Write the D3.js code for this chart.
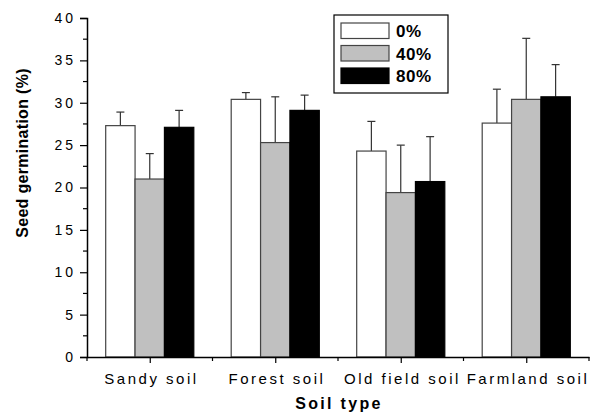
<!DOCTYPE html>
<html>
<head>
<meta charset="utf-8">
<script src="https://cdn.jsdelivr.net/npm/d3@7"></script>
<style>
  body { margin: 0; background: #fff; }
  text { font-family: "Liberation Sans", Arial, sans-serif; }
</style>
</head>
<body>
<div id="chart"></div>
<script>
// soil types on the x axis
var soils = ["Sandy soil", "Forest soil", "Old field soil", "Farmland soil"];
var series = ["0%", "40%", "80%"];
var colours = ["#ffffff", "#c0c0c0", "#000000"];

// means and (upper) error bars, one array per series
var mean0 = [27.3, 30.4, 24.3, 27.6];
var mean40 = [21.0, 25.3, 19.4, 30.4];
var mean80 = [27.1, 29.1, 20.7, 30.7];
var err0 = [1.6, 0.8, 3.5, 4.0];
var err40 = [3.0, 5.4, 5.6, 7.2];
var err80 = [2.0, 1.8, 5.3, 3.8];

var yTicks = [0, 5, 10, 15, 20, 25, 30, 35, 40];

var w = 613, h = 415;
var margin = { top: 18, right: 24, bottom: 58, left: 87 };
var iw = w - margin.left - margin.right;
var ih = h - margin.top - margin.bottom;

var svg = d3.select("#chart").append("svg")
    .attr("width", w)
    .attr("height", h);

var g = svg.append("g")
    .attr("transform", "translate(" + margin.left + "," + margin.top + ")");

var x = d3.scaleLinear().domain([0.5, 4.5]).range([0, iw]);
var y = d3.scaleLinear().domain([0, 40]).range([ih, 0]);

var barW = 0.234; // in category units

var means = [mean0, mean40, mean80];
var errs = [err0, err40, err80];
var bars = [];
soils.forEach(function (s, i) {
    series.forEach(function (k, j) {
        bars.push({ i: i, j: j, v: means[j][i], e: errs[j][i] });
    });
});

function barX(d) { return x(d.i + 1 + (d.j - 1.5) * barW); }
var bw = x(1 + barW) - x(1);

// error bars first so bars sit on top of their lower part
var eb = g.selectAll(".err").data(bars).enter().append("g");
eb.append("line")
    .attr("x1", d => barX(d) + bw / 2).attr("x2", d => barX(d) + bw / 2)
    .attr("y1", d => y(d.v)).attr("y2", d => y(d.v + d.e))
    .attr("stroke", "#333").attr("stroke-width", 1.2);
eb.append("line")
    .attr("x1", d => barX(d) + bw / 2 - 4).attr("x2", d => barX(d) + bw / 2 + 4)
    .attr("y1", d => y(d.v + d.e)).attr("y2", d => y(d.v + d.e))
    .attr("stroke", "#333").attr("stroke-width", 1.2);

g.selectAll("rect.bar").data(bars).enter().append("rect")
    .attr("class", "bar")
    .attr("x", barX)
    .attr("y", d => y(d.v))
    .attr("width", bw)
    .attr("height", d => y(0) - y(d.v))
    .attr("fill", d => colours[d.j])
    .attr("stroke", d => d.j == 2 ? "#000" : "#444")
    .attr("stroke-width", 1.2);

// y axis
var yAxis = d3.axisLeft(y).tickValues(yTicks).tickSize(7).tickPadding(4);
var ya = g.append("g").call(yAxis);
ya.select(".domain").attr("stroke-width", 1.5);
ya.selectAll(".tick line").attr("stroke-width", 1.2);
ya.selectAll("text").attr("font-size", 14).attr("letter-spacing", 3).attr("fill", "#000");
// minor ticks
g.selectAll(".ymin").data(d3.range(2.5, 40, 5)).enter().append("line")
    .attr("x1", -4).attr("x2", 0)
    .attr("y1", d => y(d)).attr("y2", d => y(d))
    .attr("stroke", "#000").attr("stroke-width", 1.2);

// x axis
var xAxis = d3.axisBottom(x).tickValues([1, 2, 3, 4])
    .tickFormat((d, i) => soils[i]).tickSize(6).tickPadding(10).tickSizeOuter(0);
var xa = g.append("g").attr("transform", "translate(0," + ih + ")").call(xAxis);
xa.select(".domain").attr("stroke-width", 1.5);
xa.selectAll(".tick line").attr("stroke-width", 1.2);
xa.selectAll("text").attr("font-size", 15).attr("letter-spacing", 2.5)
    .attr("dx", 1.2).attr("fill", "#000");
g.selectAll(".xmin").data([0.5, 1.5, 2.5, 3.5, 4.5]).enter().append("line")
    .attr("x1", d => x(d)).attr("x2", d => x(d))
    .attr("y1", ih).attr("y2", ih + 4)
    .attr("stroke", "#000").attr("stroke-width", 1.2);

// axis titles
svg.append("text")
    .attr("x", margin.left + iw / 2 + 1)
    .attr("y", 409)
    .attr("text-anchor", "middle")
    .attr("font-size", 16).attr("font-weight", "bold")
    .attr("letter-spacing", 2.3)
    .text("Soil type");

svg.append("text")
    .attr("transform", "translate(28,153) rotate(-90)")
    .attr("text-anchor", "middle")
    .attr("font-size", 16).attr("font-weight", "bold")
    .attr("letter-spacing", 0.3)
    .text("Seed germination (%)");

// legend
var lg = svg.append("g").attr("transform", "translate(334,15)");
lg.append("rect")
    .attr("width", 114).attr("height", 78)
    .attr("fill", "#fff").attr("stroke", "#000").attr("stroke-width", 1.2);
series.forEach(function (s, j) {
    lg.append("rect")
        .attr("x", 7).attr("y", 8 + j * 22.5)
        .attr("width", 48).attr("height", 15.5)
        .attr("fill", colours[j])
        .attr("stroke", j == 2 ? "#000" : "#444").attr("stroke-width", 1.2);
    lg.append("text")
        .attr("x", 62).attr("y", 22 + j * 22.5)
        .attr("font-size", 17).attr("font-weight", "bold")
        .attr("letter-spacing", 0.5)
        .text(s);
});
</script>
</body>
</html>
